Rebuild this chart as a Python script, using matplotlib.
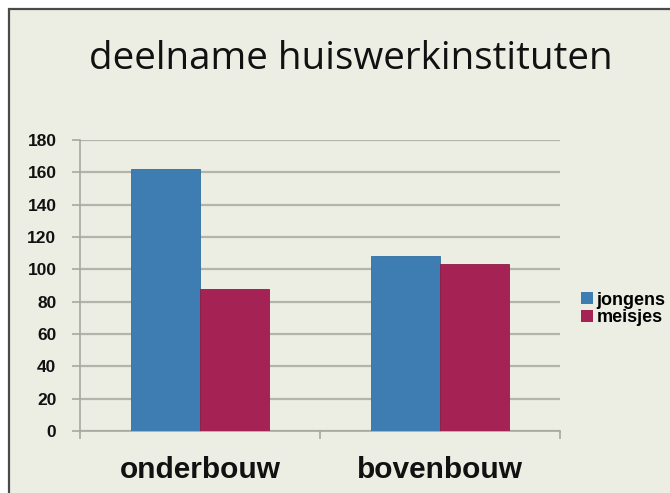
import matplotlib
matplotlib.use("Agg")
import matplotlib.pyplot as plt
from matplotlib.patches import Rectangle
import numpy as np

# ---- data ----
title = "deelname huiswerkinstituten"
categories = ["onderbouw", "bovenbouw"]
series_names = ["jongens", "meisjes"]
jongens = [162, 108]
meisjes = [88, 103]
yticks = [0, 20, 40, 60, 80, 100, 120, 140, 160, 180]

# ---- style ----
W, H = 670, 493
bg = "#ECEEE4"
blue = "#3E7DB1"
magenta = "#A52354"
grid_c = "#B4B4AC"
spine_c = "#A8A8A2"

fig = plt.figure(figsize=(W / 100, H / 100), dpi=100, facecolor="white")

# slide frame
frame = Rectangle((9 / W, -0.1), 1.2, (H - 9) / H + 0.1, transform=fig.transFigure,
                  facecolor=bg, edgecolor="#4A4A4A", lw=1.6, zorder=-10)
fig.patches.append(frame)

ax_left, ax_right = 80, 560
ax_top, ax_bottom = 140, 431
ax = fig.add_axes([ax_left / W, (H - ax_bottom) / H, (ax_right - ax_left) / W,
                   (ax_bottom - ax_top) / H])
ax.set_facecolor("none")

x = np.arange(len(categories))
bw = 69 / 240
b1 = ax.bar(x - bw / 2, jongens, bw, color=blue, edgecolor="#2F6FA3", lw=0.6,
            label=series_names[0], zorder=3)
b2 = ax.bar(x + bw / 2, meisjes, bw, color=magenta, edgecolor="#8F1C45", lw=0.6,
            label=series_names[1], zorder=3)

ax.set_xlim(-0.5, len(categories) - 0.5)
ax.set_ylim(0, 180)
ax.set_yticks(yticks)
ax.set_yticklabels([str(v) for v in yticks], fontfamily="Liberation Sans",
                   fontweight="bold", fontsize=12.5, color="#111111")
ax.yaxis.grid(True, color=grid_c, lw=1.6, zorder=0)
ax.set_axisbelow(True)

# x ticks at category boundaries, labels at centres
ax.set_xticks(np.arange(len(categories) + 1) - 0.5)
ax.set_xticklabels([])
ax.set_xticks(x, minor=True)
ax.set_xticklabels(categories, minor=True, fontfamily="Liberation Sans",
                   fontweight="bold", fontsize=21.5, color="#111111")
ax.tick_params(axis="x", which="major", length=6, width=1.2, color=spine_c,
               direction="out")
ax.tick_params(axis="x", which="minor", length=0, pad=18)
ax.tick_params(axis="y", length=6, width=1.2, color=spine_c, pad=11)

for s in ["top", "right"]:
    ax.spines[s].set_visible(False)
for s in ["left", "bottom"]:
    ax.spines[s].set_color(spine_c)
    ax.spines[s].set_linewidth(1.2)

# legend
leg = fig.legend(handles=[b1, b2], labels=series_names, loc="center left",
                 bbox_to_anchor=(581 / W, 1 - 309 / H), frameon=False,
                 prop={"family": "Liberation Sans", "weight": "bold", "size": 13},
                 handlelength=0.65, handleheight=0.65, handletextpad=0.2,
                 labelspacing=0.05, borderaxespad=0, borderpad=0)
for h in leg.legend_handles:
    h.set_edgecolor("none")

# title, sized to match reference width
t = fig.text(350.5 / W, 1 - 69 / H, title, ha="center", va="baseline",
             fontfamily="Open Sans", fontsize=30, color="#111111")
fig.canvas.draw()
r = fig.canvas.get_renderer()
wpx = t.get_window_extent(r).width
t.set_fontsize(30 * 525 / wpx)

fig.savefig("out.png", dpi=100, facecolor="white")
